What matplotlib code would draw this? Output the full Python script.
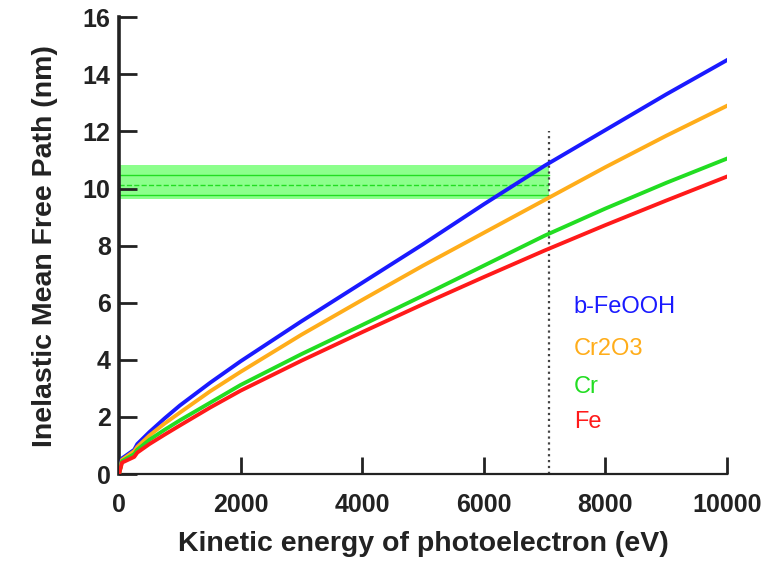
import matplotlib
matplotlib.use('Agg')
import matplotlib.pyplot as plt

plt.rcParams['font.family'] = ['Liberation Sans', 'DejaVu Sans']

# kinetic energy grid (eV) and IMFP values (nm) for each material
energy = [50, 250, 300, 500, 750, 1000, 1500, 2000, 3000, 4000, 5000, 6000, 7000, 8000, 9000, 10000]
feooh = [0.55, 0.85, 1.05, 1.47, 1.95, 2.4, 3.2, 3.95, 5.35, 6.7, 8.05, 9.45, 10.8, 12.05, 13.3, 14.5]
cr2o3 = [0.5, 0.8, 0.95, 1.35, 1.77, 2.15, 2.9, 3.58, 4.88, 6.1, 7.3, 8.45, 9.6, 10.75, 11.85, 12.9]
cr = [0.45, 0.7, 0.85, 1.2, 1.55, 1.88, 2.5, 3.12, 4.2, 5.22, 6.25, 7.3, 8.35, 9.3, 10.2, 11.05]
fe = [0.4, 0.6, 0.75, 1.05, 1.38, 1.7, 2.33, 2.92, 3.97, 4.97, 5.95, 6.9, 7.83, 8.72, 9.58, 10.42]

names = ['b-FeOOH', 'Cr2O3', 'Cr', 'Fe']
colors = ['#1a1aff', '#ffad1a', '#22dd22', '#ff1a1a']
label_y = [5.84, 4.37, 3.04, 1.82]

# probing depth window at the excitation energy
e_probe = 7070
band_lo, band_hi = 9.62, 10.84
band_lines = [9.76, 10.14, 10.49]

fig = plt.figure(figsize=(7.78, 5.66), dpi=100)
ax = fig.add_axes([0.153, 0.1625, 0.7815, 0.807])

ax.fill_between([0, e_probe], band_lo, band_hi, color='#8cff8c', lw=0, zorder=1)
for i, yv in enumerate(band_lines):
    ax.plot([0, e_probe], [yv, yv], color='#22dd22', lw=1.0,
            ls='--' if i == 1 else '-', zorder=1.5)
ax.plot([e_probe, e_probe], [0, 12], color='#444444', lw=1.6, ls=':', zorder=2)

for series, name, c, ly in zip([feooh, cr2o3, cr, fe], names, colors, label_y):
    ax.plot([0] + energy, [0] + series, color=c, lw=2.8, zorder=3,
            solid_joinstyle='round')
    ax.text(7480, ly, name, color=c, fontsize=17, va='center', ha='left')

ax.set_xlim(0, 10000)
ax.set_ylim(0, 16)
ax.set_xticks(range(0, 10001, 2000))
ax.set_yticks(range(0, 17, 2))

for s in ['top', 'right']:
    ax.spines[s].set_visible(False)
ax.spines['left'].set_linewidth(2.6)
ax.spines['bottom'].set_linewidth(1.6)
ax.spines['left'].set_color('#222222')
ax.spines['bottom'].set_color('#222222')

ax.tick_params(axis='y', direction='in', length=13, width=2.0, color='#222222',
               labelsize=18, pad=6)
ax.tick_params(axis='x', direction='in', length=12, width=2.0, color='#222222',
               labelsize=18, pad=14)
for lab in ax.get_xticklabels() + ax.get_yticklabels():
    lab.set_fontweight('bold')
    lab.set_color('#222222')

ax.set_xlabel('Kinetic energy of photoelectron (eV)', fontsize=20.5, fontweight='bold',
              color='#222222', labelpad=10)
ax.set_ylabel('Inelastic Mean Free Path (nm)', fontsize=20.5, fontweight='bold',
              color='#222222', labelpad=18)

plt.savefig('out.png', dpi=100)
plt.close()
